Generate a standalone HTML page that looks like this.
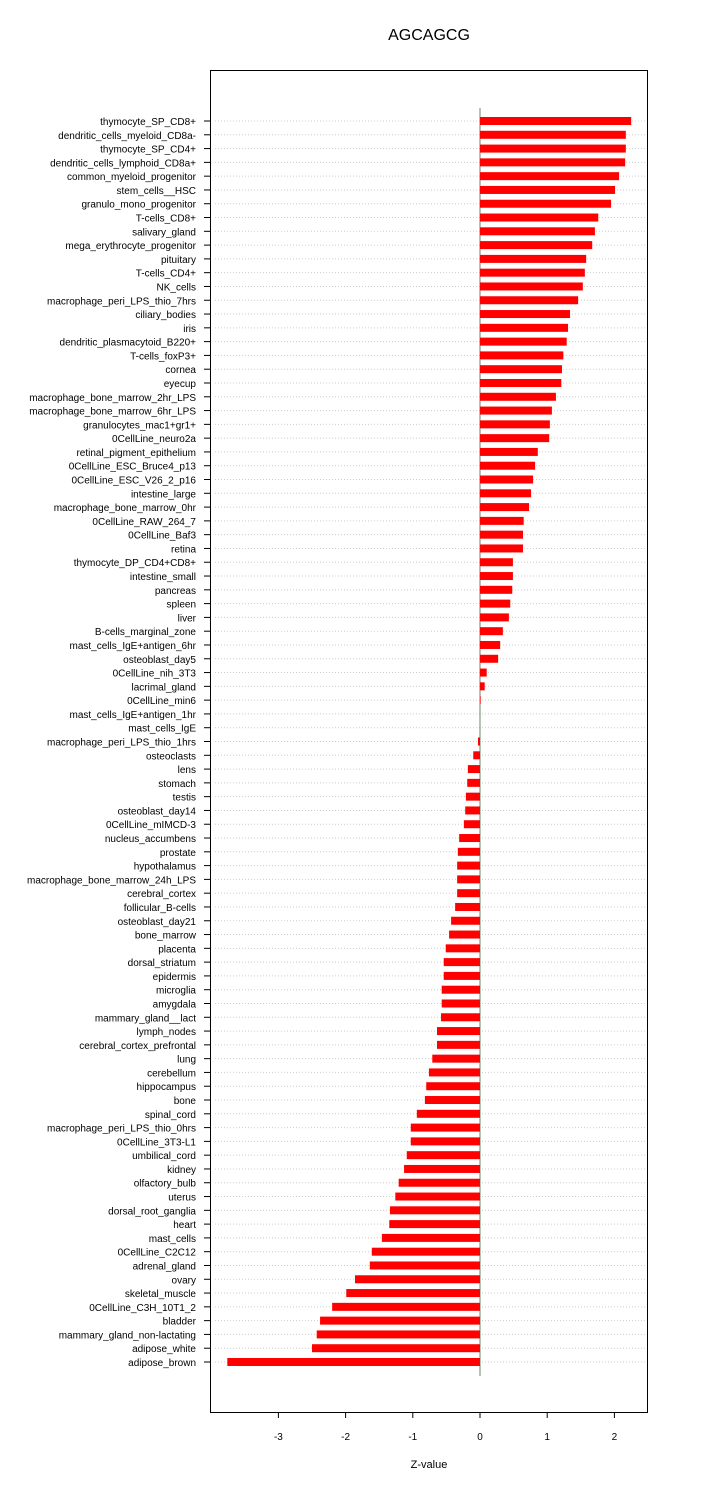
<!DOCTYPE html>
<html><head><meta charset="utf-8"><style>
html,body{margin:0;padding:0;background:#fff;}
svg{display:block;font-family:"Liberation Sans",sans-serif;}
</style></head><body>
<svg id="chart" width="720" height="1485" viewBox="0 0 720 1485" xmlns="http://www.w3.org/2000/svg">
<text x="429" y="40" text-anchor="middle" font-size="16">AGCAGCG</text>
<rect x="210.5" y="70.5" width="437" height="1342" fill="none" stroke="#000" stroke-width="1"/>
<g id="grid"></g><g id="bars"></g><g id="labels"></g><g id="xaxis"></g>
<text x="429" y="1468" text-anchor="middle" font-size="11">Z-value</text>
</svg>
<script>
const categories=["thymocyte_SP_CD8+","dendritic_cells_myeloid_CD8a-","thymocyte_SP_CD4+","dendritic_cells_lymphoid_CD8a+","common_myeloid_progenitor","stem_cells__HSC","granulo_mono_progenitor","T-cells_CD8+","salivary_gland","mega_erythrocyte_progenitor","pituitary","T-cells_CD4+","NK_cells","macrophage_peri_LPS_thio_7hrs","ciliary_bodies","iris","dendritic_plasmacytoid_B220+","T-cells_foxP3+","cornea","eyecup","macrophage_bone_marrow_2hr_LPS","macrophage_bone_marrow_6hr_LPS","granulocytes_mac1+gr1+","0CellLine_neuro2a","retinal_pigment_epithelium","0CellLine_ESC_Bruce4_p13","0CellLine_ESC_V26_2_p16","intestine_large","macrophage_bone_marrow_0hr","0CellLine_RAW_264_7","0CellLine_Baf3","retina","thymocyte_DP_CD4+CD8+","intestine_small","pancreas","spleen","liver","B-cells_marginal_zone","mast_cells_IgE+antigen_6hr","osteoblast_day5","0CellLine_nih_3T3","lacrimal_gland","0CellLine_min6","mast_cells_IgE+antigen_1hr","mast_cells_IgE","macrophage_peri_LPS_thio_1hrs","osteoclasts","lens","stomach","testis","osteoblast_day14","0CellLine_mIMCD-3","nucleus_accumbens","prostate","hypothalamus","macrophage_bone_marrow_24h_LPS","cerebral_cortex","follicular_B-cells","osteoblast_day21","bone_marrow","placenta","dorsal_striatum","epidermis","microglia","amygdala","mammary_gland__lact","lymph_nodes","cerebral_cortex_prefrontal","lung","cerebellum","hippocampus","bone","spinal_cord","macrophage_peri_LPS_thio_0hrs","0CellLine_3T3-L1","umbilical_cord","kidney","olfactory_bulb","uterus","dorsal_root_ganglia","heart","mast_cells","0CellLine_C2C12","adrenal_gland","ovary","skeletal_muscle","0CellLine_C3H_10T1_2","bladder","mammary_gland_non-lactating","adipose_white","adipose_brown"];
const zValues=[2.25,2.17,2.17,2.16,2.07,2.01,1.95,1.76,1.71,1.67,1.58,1.56,1.53,1.46,1.34,1.31,1.29,1.24,1.22,1.21,1.13,1.07,1.04,1.03,0.86,0.82,0.79,0.76,0.73,0.65,0.64,0.64,0.49,0.49,0.48,0.45,0.43,0.34,0.30,0.27,0.10,0.07,0.01,0.0,0.0,-0.03,-0.10,-0.18,-0.19,-0.21,-0.22,-0.24,-0.31,-0.33,-0.34,-0.34,-0.34,-0.37,-0.43,-0.46,-0.51,-0.54,-0.54,-0.57,-0.57,-0.58,-0.64,-0.64,-0.71,-0.76,-0.80,-0.82,-0.94,-1.03,-1.03,-1.09,-1.13,-1.21,-1.26,-1.34,-1.35,-1.46,-1.61,-1.64,-1.86,-1.99,-2.20,-2.38,-2.43,-2.50,-3.76];
const xTicks=[-3,-2,-1,0,1,2];
const NS="http://www.w3.org/2000/svg";
function xScale(v){return 480+v*67.2;}
function yScale(i){return 121+i*(1241/(categories.length-1));}
function mk(tag,attrs,parent){const e=document.createElementNS(NS,tag);for(const k in attrs)e.setAttribute(k,attrs[k]);document.getElementById(parent).appendChild(e);return e;}
categories.forEach((c,i)=>{
  const y=yScale(i);
  const g=mk("line",{x1:215,x2:645,y1:y,y2:y,stroke:"#ccc","stroke-dasharray":"1,2","stroke-width":1},"grid");
  
  
  const yt=mk("line",{x1:204,x2:210,y1:y,y2:y,stroke:"#000","stroke-width":1},"grid");
  
  
  const v=zValues[i];
  const x0=Math.min(xScale(0),xScale(v)), w=Math.abs(xScale(v)-xScale(0));
  const b=mk("rect",{x:x0,y:y-4,width:w,height:8,fill:"#ff0000"},"bars");
  
  
  const t=mk("text",{x:196,y:y+4,"text-anchor":"end","font-size":"10"},"labels");
  t.textContent=c;
  
  
});
const zl=mk("line",{x1:480,x2:480,y1:108,y2:1376,stroke:"#6a8a6a","stroke-width":1},"grid");


xTicks.forEach(v=>{
  const x=xScale(v);
  const tk=mk("line",{x1:x,x2:x,y1:1412,y2:1418,stroke:"#000"},"xaxis");
  
  
  const tl=mk("text",{x:x,y:1440,"text-anchor":"middle","font-size":"10"},"xaxis");
  tl.textContent=String(v);
  
  
});
</script>
</body></html>
